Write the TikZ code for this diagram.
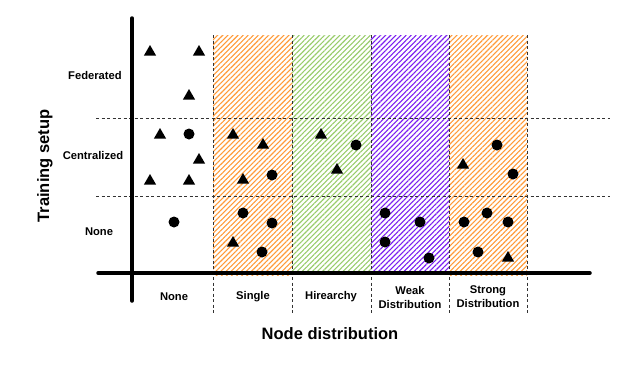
\documentclass[tikz,border=0pt]{standalone}
\usepackage{fontspec}
\setmainfont{Liberation Sans}
\usetikzlibrary{patterns.meta,shapes.geometric}
\definecolor{HatchOrange}{HTML}{FF9A38}
\definecolor{HatchGreen}{HTML}{98CC6A}
\definecolor{HatchViolet}{HTML}{7A1FF0}
\definecolor{GridGray}{HTML}{333333}

\begin{document}
\begin{tikzpicture}[x=1pt, y=-1pt, font=\bfseries\fontsize{11.2}{14}\selectfont]
\tikzset{tri/.style={regular polygon, regular polygon sides=3, fill=black, inner sep=0pt, minimum size=14pt}, dot/.style={circle, fill=black, inner sep=0pt, minimum size=11pt}, hatch/.style={draw=none, pattern={Lines[angle=45,distance=3.6pt,line width=1.1pt]}}, grid/.style={GridGray, dash pattern=on 3pt off 2.5pt, line width=0.8pt}, axis/.style={line width=3.5pt, line cap=round}, lab/.style={align=center, inner sep=0pt}, title/.style={font=\bfseries\fontsize{16.5}{18}\selectfont}}
\useasboundingbox (0,0) rectangle (621,370);
% hatched columns
\fill[hatch, pattern color=HatchOrange] (213,35) rectangle (292,275);
\fill[hatch, pattern color=HatchGreen] (292,35) rectangle (371,273);
\fill[hatch, pattern color=HatchViolet] (371,35) rectangle (449,273);
\fill[hatch, pattern color=HatchOrange] (449,35) rectangle (527,275);
% grid
\foreach \y in {118,196} \draw[grid] (96,\y) -- (610,\y);
\foreach \x in {213,292,371,449,527} \draw[grid] (\x,35) -- (\x,313);
% axes
\draw[axis] (98,273) -- (590,273);
\draw[axis] (132,18) -- (132,301);
% markers
\foreach \n/\x/\y in {1/150/52,2/199/52,3/189/96,4/160/135,5/199/160,6/150/181,7/189/181,8/233/135,9/263/145,10/243/180,11/233/243,12/321/135,13/337/170,14/463/165,15/508/258}
  \node[tri] (t\n) at (\x,\y) {};
\foreach \n/\x/\y in {1/189/134,2/174/222,3/272/175,4/243/213,5/272/223,6/262/252,7/356/145,8/385/213,9/420/222,10/385/242,11/429/258,12/497/145,13/513/174,14/464/222,15/487/213,16/508/222,17/478/252}
  \node[dot] (d\n) at (\x,\y) {};
% labels
\node[lab] (fed) at (95,75) {Federated};
\node[lab] (cen) at (93,155) {Centralized};
\node[lab] (nonerow) at (99,232) {None};
\node[lab] (nonecol) at (174,297) {None};
\node[lab] (single) at (253,297) {Single};
\node[lab] (hier) at (331,297) {Hirearchy};
\node[lab] (weak) at (410,297) {Weak\\Distribution};
\node[lab] (strong) at (488,297) {Strong\\Distribution};
\node[title, rotate=90] (ylab) at (45,166) {Training setup};
\node[title] (xlab) at (330,334) {Node distribution};
\end{tikzpicture}
\end{document}
